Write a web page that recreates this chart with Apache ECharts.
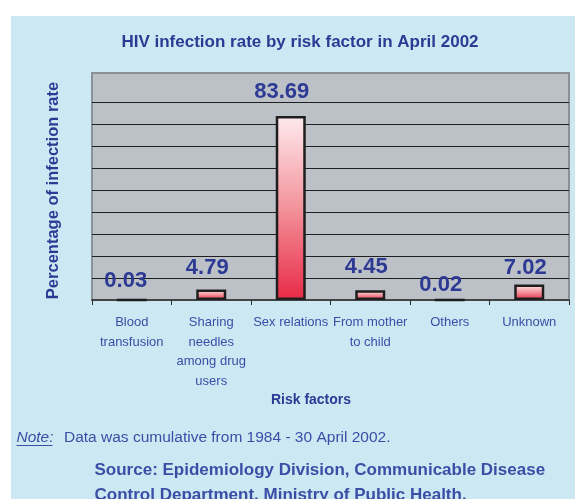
<!DOCTYPE html>
<html>
<head>
<meta charset="utf-8">
<script src="https://cdn.jsdelivr.net/npm/echarts@6/dist/echarts.min.js"></script>
<style>
  html, body { margin: 0; padding: 0; background: #ffffff; }
  #chart { width: 575px; height: 499px; }
</style>
</head>
<body>
<div id="chart"></div>
<script>
// Risk factors and cumulative HIV infection share (%)
const riskFactors = [
  'Blood\ntransfusion',
  'Sharing\nneedles\namong drug\nusers',
  'Sex relations',
  'From mother\nto child',
  'Others',
  'Unknown'
];
const infectionRate = [0.03, 4.79, 83.69, 4.45, 0.02, 7.02];

const chartTitle = 'HIV infection rate by risk factor in April 2002';
const yAxisTitle = 'Percentage of infection rate';
const xAxisTitle = 'Risk factors';
const noteLabel = 'Note:';
const noteText = 'Data was cumulative from 1984 - 30 April 2002.';
const sourceLines = [
  'Source: Epidemiology Division, Communicable Disease',
  'Control Department, Ministry of Public Health.'
];

// Per-bar nudges for the value labels [dx, dy]
const labelNudge = [[-6, -7], [-4, -11], [-9, -13], [-4, -12], [-9, -3], [-4, -6]];

const FONT = '"Liberation Sans", Arial, sans-serif';
const NAVY = '#2c3a94';
const TEXT_BLUE = '#3a4ea6';

const barFill = new echarts.graphic.LinearGradient(0, 0, 0, 1, [
  { offset: 0, color: '#ffeaee' },
  { offset: 0.5, color: '#f3939b' },
  { offset: 1, color: '#e82a47' }
]);

// Grid lines at 10..90; the line at 100 is left out
const gridLineColors = [];
for (let i = 0; i < 9; i++) gridLineColors.push('#1f1f1f');
gridLineColors.push('rgba(0,0,0,0)');

const chart = echarts.init(document.getElementById('chart'), null, { renderer: 'canvas' });

chart.setOption({
  animation: false,
  title: {
    text: chartTitle,
    left: 300,
    top: 32,
    textAlign: 'center',
    padding: 0,
    textStyle: {
      fontFamily: FONT,
      fontSize: 17,
      fontWeight: 'bold',
      color: NAVY,
      lineHeight: 20
    }
  },
  grid: {
    left: 92,
    right: 6,
    top: 73,
    bottom: 199,
    show: true,
    backgroundColor: '#bcc1c8',
    borderColor: '#8a9096',
    borderWidth: 2
  },
  xAxis: {
    type: 'category',
    data: riskFactors,
    name: xAxisTitle,
    nameLocation: 'middle',
    nameGap: 93,
    nameTextStyle: {
      fontFamily: FONT,
      fontSize: 14,
      fontWeight: 'bold',
      color: NAVY,
      lineHeight: 14,
      padding: [0, 39, 0, 0]
    },
    axisLine: { show: true, lineStyle: { color: '#2a2a2a', width: 1.5 } },
    axisTick: { show: true, length: 5, lineStyle: { color: '#2a2a2a', width: 1 } },
    axisLabel: {
      interval: 0,
      margin: 13,
      fontFamily: FONT,
      fontSize: 13,
      lineHeight: 19.5,
      color: TEXT_BLUE
    },
    splitLine: { show: false }
  },
  yAxis: {
    type: 'value',
    min: 0,
    max: 103.2,
    interval: 10,
    name: yAxisTitle,
    nameLocation: 'middle',
    nameGap: 30,
    nameTextStyle: {
      fontFamily: FONT,
      fontSize: 16.5,
      fontWeight: 'bold',
      color: NAVY,
      padding: [0, 8, 0, 0]
    },
    axisLine: { show: false },
    axisTick: { show: false },
    axisLabel: { show: false },
    splitLine: {
      show: true,
      showMinLine: false,
      showMaxLine: false,
      lineStyle: { color: gridLineColors, width: 1 }
    }
  },
  series: [{
    type: 'bar',
    barWidth: 30,
    data: infectionRate.map((v, i) => ({
      value: v,
      label: { offset: labelNudge[i] }
    })),
    itemStyle: {
      color: barFill,
      borderColor: '#1e1e1e',
      borderWidth: 2.5
    },
    label: {
      show: true,
      position: 'top',
      distance: 0,
      fontFamily: FONT,
      fontSize: 22,
      lineHeight: 22,
      fontWeight: 'bold',
      color: NAVY,
      formatter: p => p.value.toFixed(2)
    }
  }],
  graphic: [
    {
      type: 'rect',
      z: -10,
      silent: true,
      shape: { x: 11, y: 16, width: 564, height: 483 },
      style: { fill: '#cce9f3' }
    },
    {
      type: 'text',
      silent: true,
      style: {
        text: noteLabel,
        x: 16.5, y: 438,
        verticalAlign: 'middle',
        font: 'italic 15.5px ' + FONT,
        fill: TEXT_BLUE
      }
    },
    {
      type: 'line',
      silent: true,
      shape: { x1: 16.5, y1: 445.5, x2: 52.5, y2: 445.5 },
      style: { stroke: TEXT_BLUE, lineWidth: 1 }
    },
    {
      type: 'text',
      silent: true,
      style: {
        text: noteText,
        x: 64, y: 438,
        verticalAlign: 'middle',
        font: '15.5px ' + FONT,
        fill: TEXT_BLUE
      }
    },
    {
      type: 'text',
      silent: true,
      style: {
        text: sourceLines[0],
        x: 94.5, y: 470,
        verticalAlign: 'middle',
        font: 'bold 17px ' + FONT,
        fill: TEXT_BLUE
      }
    },
    {
      type: 'text',
      silent: true,
      style: {
        text: sourceLines[1],
        x: 94.5, y: 495,
        verticalAlign: 'middle',
        font: 'bold 17px ' + FONT,
        fill: TEXT_BLUE
      }
    }
  ]
});
</script>
</body>
</html>
